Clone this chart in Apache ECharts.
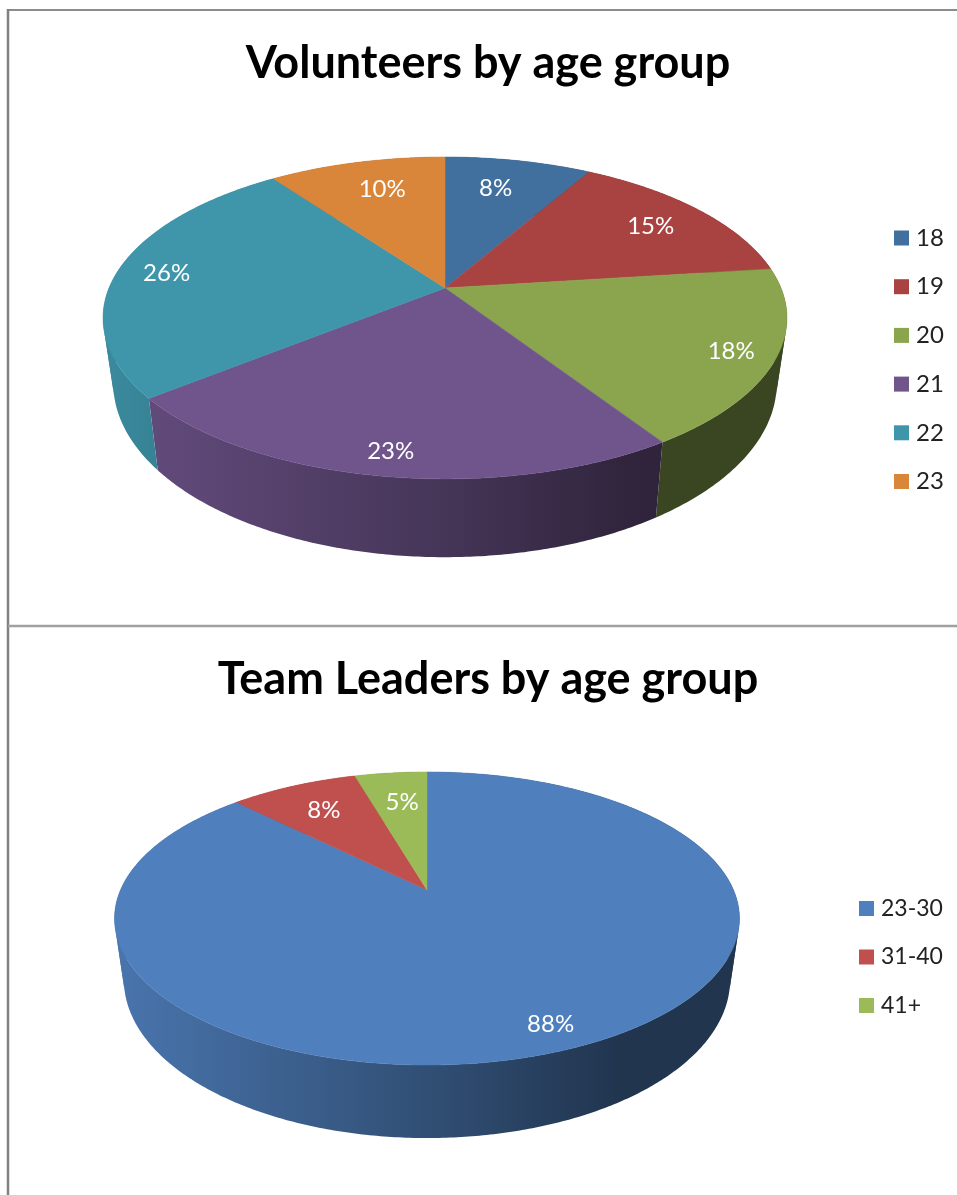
<!DOCTYPE html>
<html>
<head>
<meta charset="utf-8">
<title>Age groups</title>
<script src="https://cdn.jsdelivr.net/npm/echarts@6/dist/echarts.min.js"></script>
<style>
html, body { margin: 0; padding: 0; background: #fff; }
#chart { width: 957px; height: 1195px; }
</style>
</head>
<body>
<div id="chart"></div>
<script>
// values (percent of each pie)
const volunteerAges = ['18', '19', '20', '21', '22', '23'];
const volunteerValues = [8.3, 14.7, 17.8, 23.4, 25.8, 10];
const leaderAges = ['23-30', '31-40', '41+'];
const leaderValues = [87.5, 8, 4.5];

const volunteerColors = ['#41709f', '#a84341', '#8aa54e', '#6f558c', '#3f96ab', '#d9853a'];
const leaderColors = ['#4f7fbc', '#c0504d', '#9bbb59'];

// pie geometry: apex, projected radii, perspective and thickness
const volunteerPie = {
    cx: 445, cy: 288, R: 336, S: 155.4, k: 0.186, D: 63,
    left: 103, mid: 445, right: 640,
    // label nudge from the point at 80% of the radius
    nudge: [[-10, 5], [-1, 2], [26, 8], [-5, 19], [-17, 1], [10, 5]]
};
const leaderPie = {
    cx: 427, cy: 890, R: 306.5, S: 141, k: 0.1945, D: 59,
    left: 115, mid: 427, right: 620,
    nudge: [[14, 13], [7, 6], [5, 9]]
};

function project(pie, r, angle, lower) {
    const u = r * Math.sin(angle);
    const v = -r * Math.cos(angle);
    const d = 1 - pie.k * v;
    let x = pie.R * u / d;
    let y = pie.S * v / d;
    if (lower) {
        x *= 0.97;
        y = y * 1.08 + pie.D;
    }
    return [pie.cx + x, pie.cy + y];
}

function arc(pie, from, to, lower) {
    const steps = Math.max(2, Math.ceil((to - from) / 0.01));
    const pts = [];
    for (let i = 0; i <= steps; i++) {
        pts.push(project(pie, 1, from + (to - from) * i / steps, lower));
    }
    return pts;
}

function shade(hex, f) {
    const n = parseInt(hex.slice(1), 16);
    const c = [n >> 16, (n >> 8) & 255, n & 255].map(function (p) { return Math.round(p * f); });
    return 'rgb(' + c.join(',') + ')';
}

function quadSign(a, b, c, d) {
    const pts = [a, b, c, d];
    let area = 0;
    for (let i = 0; i < 4; i++) {
        const p = pts[i];
        const q = pts[(i + 1) % 4];
        area += p[0] * q[1] - q[0] * p[1];
    }
    return area >= 0 ? 1 : -1;
}

// the side strip folds over at the silhouette, so it is split there
function wallPieces(pie, start, end, color) {
    const span = pie.right - pie.left;
    const fill = new echarts.graphic.LinearGradient(pie.left, 0, pie.right, 0, [
        { offset: 0, color: shade(color, 0.92) },
        { offset: (pie.mid - pie.left) / span, color: shade(color, 0.62) },
        { offset: 1, color: shade(color, 0.42) }
    ], true);
    const upper = arc(pie, start, end, false);
    const lower = arc(pie, start, end, true);
    const pieces = [];
    let from = 0;
    for (let i = 0; i < upper.length - 1; i++) {
        const sign = quadSign(upper[i], upper[i + 1], lower[i + 1], lower[i]);
        const last = i === upper.length - 2;
        const next = last ? sign : quadSign(upper[i + 1], upper[i + 2], lower[i + 2], lower[i + 1]);
        if (last || next !== sign) {
            pieces.push({
                type: 'polygon',
                z2: 1,
                shape: { points: upper.slice(from, i + 2).concat(lower.slice(from, i + 2).reverse()) },
                style: { fill: fill }
            });
            from = i + 1;
        }
    }
    return pieces;
}

function sliceSeries(pie, names, values, colors) {
    const total = values.reduce(function (a, b) { return a + b; }, 0);
    let sum = 0;
    return names.map(function (name, i) {
        const start = sum / total * Math.PI * 2;
        sum += values[i];
        const end = sum / total * Math.PI * 2;
        return {
            type: 'custom',
            name: name,
            coordinateSystem: 'none',
            silent: true,
            clip: false,
            itemStyle: { color: colors[i] },
            data: [[values[i]]],
            renderItem: function () {
                const top = arc(pie, start, end, false);
                const labelAt = project(pie, 0.8, (start + end) / 2, false);
                return {
                    type: 'group',
                    children: wallPieces(pie, start, end, colors[i]).concat([{
                        type: 'polygon',
                        z2: 10,
                        shape: { points: [[pie.cx, pie.cy]].concat(top) },
                        style: { fill: colors[i], stroke: colors[i], lineWidth: 0.5 }
                    }, {
                        type: 'text',
                        z2: 20,
                        style: {
                            text: Math.round(values[i]) + '%',
                            x: labelAt[0] + pie.nudge[i][0],
                            y: labelAt[1] + pie.nudge[i][1],
                            align: 'center',
                            verticalAlign: 'middle',
                            fill: '#fff',
                            font: '24px Lato'
                        }
                    }])
                };
            }
        };
    });
}

function frameLine(x1, y1, x2, y2, color, width) {
    return {
        type: 'line',
        shape: { x1: x1, y1: y1, x2: x2, y2: y2 },
        style: { stroke: color, lineWidth: width }
    };
}

const myChart = echarts.init(document.getElementById('chart'));
myChart.setOption({
    animation: false,
    backgroundColor: '#fff',
    title: [{
        text: 'Volunteers by age group',
        left: 483,
        top: 36,
        textAlign: 'center',
        textStyle: { fontFamily: 'Lato', fontWeight: 'bold', fontSize: 45, color: '#000' }
    }, {
        text: 'Team Leaders by age group',
        left: 483,
        top: 652,
        textAlign: 'center',
        textStyle: { fontFamily: 'Lato', fontWeight: 'bold', fontSize: 45, color: '#000' }
    }],
    legend: [{
        data: volunteerAges,
        orient: 'vertical',
        left: 889,
        top: 221,
        icon: 'rect',
        itemWidth: 15,
        itemHeight: 15,
        itemGap: 24.7,
        selectedMode: false,
        textStyle: { color: '#222', fontFamily: 'Lato', fontSize: 24, padding: [0, 0, 0, 2] }
    }, {
        data: leaderAges,
        orient: 'vertical',
        left: 854,
        top: 892,
        icon: 'rect',
        itemWidth: 15,
        itemHeight: 15,
        itemGap: 25.5,
        selectedMode: false,
        textStyle: { color: '#222', fontFamily: 'Lato', fontSize: 23, padding: [0, 0, 0, 2] }
    }],
    graphic: [
        frameLine(8, 10, 957, 10, '#8c8c8c', 2),
        frameLine(8, 9, 8, 1195, '#808080', 2.5),
        frameLine(8, 626, 957, 626, '#a0a0a0', 2.5)
    ],
    series: sliceSeries(volunteerPie, volunteerAges, volunteerValues, volunteerColors)
        .concat(sliceSeries(leaderPie, leaderAges, leaderValues, leaderColors))
});

window.addEventListener('resize', function () {
    myChart.resize();
});
</script>
</body>
</html>
